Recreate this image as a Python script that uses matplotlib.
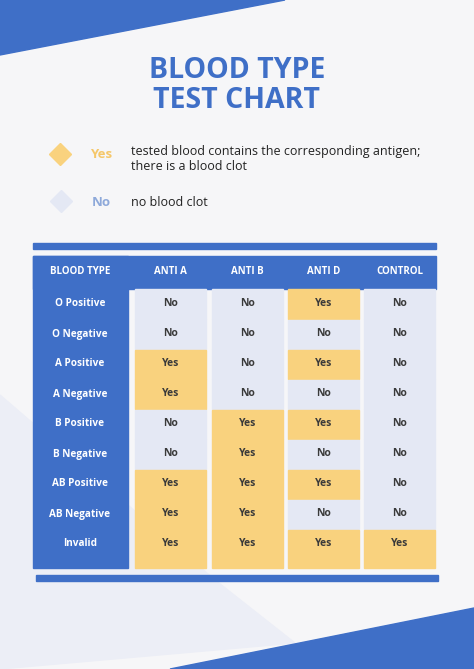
import matplotlib
matplotlib.use("Agg")
import matplotlib.pyplot as plt
from matplotlib.patches import Polygon, Rectangle

blood_types = ["O Positive", "O Negative", "A Positive", "A Negative", "B Positive",
               "B Negative", "AB Positive", "AB Negative", "Invalid"]
columns = ["BLOOD TYPE", "ANTI A", "ANTI B", "ANTI D", "CONTROL"]
anti_a = ["No", "No", "Yes", "Yes", "No", "No", "Yes", "Yes", "Yes"]
anti_b = ["No", "No", "No", "No", "Yes", "Yes", "Yes", "Yes", "Yes"]
anti_d = ["Yes", "No", "Yes", "No", "Yes", "No", "Yes", "No", "Yes"]
control = ["No", "No", "No", "No", "No", "No", "No", "No", "Yes"]

BLUE = "#3f6fc7"; YEL = "#f9d27e"; LIGHT = "#e4e8f4"; BG = "#f6f6f8"
plt.rcParams['font.family'] = ['Open Sans', 'DejaVu Sans']
fig = plt.figure(figsize=(4.74, 6.69), dpi=100)
ax = fig.add_axes([0, 0, 1, 1])
ax.set_xlim(0, 474); ax.set_ylim(669, 0); ax.axis('off')
ax.add_patch(Rectangle((0, 0), 474, 669, color=BG))
ax.add_patch(Polygon([(0, 395), (215, 580), (295, 643), (0, 669)], color="#eceef6"))
ax.add_patch(Polygon([(0, 0), (285, 0), (0, 55)], color=BLUE))
ax.add_patch(Polygon([(170, 669), (474, 608), (474, 669)], color=BLUE))

ax.text(237, 70, "BLOOD TYPE", ha='center', va='center', fontsize=20.5, fontweight='bold', color=BLUE)
ax.text(237, 101, "TEST CHART", ha='center', va='center', fontsize=20.5, fontweight='bold', color=BLUE)

ax.plot(60, 154, marker='D', ms=11, color=YEL)
ax.text(101, 154, "Yes", ha='center', va='center', fontsize=9.5, fontweight='bold', color="#f5c76a")
ax.text(131, 152, "tested blood contains the corresponding antigen;", va='center', fontsize=9, color="#222")
ax.text(131, 167, "there is a blood clot", va='center', fontsize=9, color="#222")
ax.plot(61, 201, marker='D', ms=11, color=LIGHT)
ax.text(101, 202, "No", ha='center', va='center', fontsize=9.5, fontweight='bold', color="#8ea9da")
ax.text(131, 202, "no blood clot", va='center', fontsize=9, color="#222")

ax.add_patch(Rectangle((33, 243), 403, 6, color=BLUE))
ax.add_patch(Rectangle((36, 575), 402, 6, color=BLUE))
ax.add_patch(Rectangle((33, 256), 403, 33, color=BLUE))
ax.add_patch(Rectangle((33, 256), 95, 312, color=BLUE))
col_x = [(33, 128), (135, 206), (212, 283), (288, 359), (364, 435)]
for (x0, x1), name in zip(col_x, columns):
    ax.text((x0 + x1) / 2, 272, name, ha='center', va='center', fontsize=7, fontweight='bold', color='white')

row_h = 30
y0 = 289
for j, vals in enumerate([anti_a, anti_b, anti_d, control]):
    x0, x1 = col_x[j + 1]
    for i, v in enumerate(vals):
        top = y0 + i * row_h
        h = row_h if i < len(vals) - 1 else 279 - 8 * row_h
        gt = 1 if i > 0 and vals[i - 1] != v else 0
        ax.add_patch(Rectangle((x0, top + gt), x1 - x0, h - gt, color=YEL if v == "Yes" else LIGHT))
        ax.text((x0 + x1) / 2, top + 15, v, ha='center', va='center', fontsize=7.5, fontweight='bold', color="#3a3a3a")
for i, b in enumerate(blood_types):
    ax.text(80, y0 + i * row_h + 15, b, ha='center', va='center', fontsize=7.2, fontweight='bold', color='white')

fig.savefig("out.png", dpi=100)
